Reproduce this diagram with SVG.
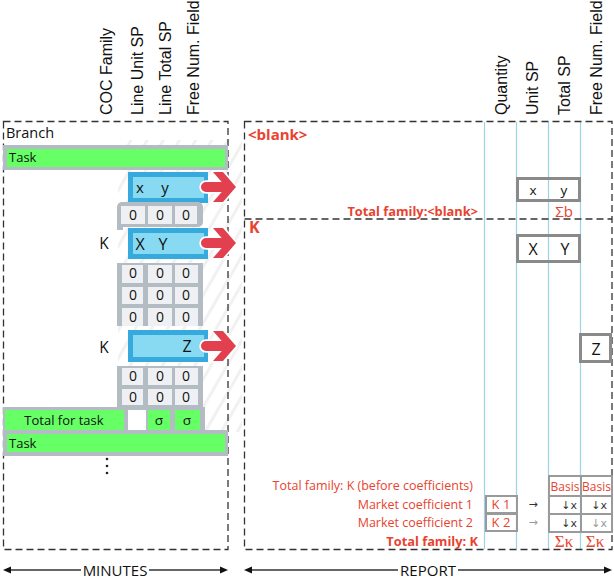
<svg xmlns="http://www.w3.org/2000/svg" width="614" height="580" viewBox="0 0 614 580">
<style>
.hdr{font-family:"Liberation Sans",Arial,sans-serif;font-size:16px;fill:#111}
.t{font-family:"Open Sans","Noto Sans",sans-serif;fill:#111}
.red{fill:#e8432f}
.b{font-weight:bold}
.mid{text-anchor:middle}
.end{text-anchor:end}
.dash{fill:none;stroke:#333;stroke-width:1.3;stroke-dasharray:7 4}
.bar{fill:#b3bbc3}
.green{fill:#66ff66}
.cell{fill:#eef0f3}
.blueO{fill:#36aadd}
.blueI{fill:#88daf3}
.arrow{fill:#e2404e;stroke:#fff;stroke-width:3.5;paint-order:stroke;stroke-linejoin:round}
.vline{stroke:#9bd5e3;stroke-width:1.2}
.box{fill:none;stroke:#8a8a8a;stroke-width:3}
.sbox{fill:none;stroke:#9a9a9a;stroke-width:2}
.axis{stroke:#333;stroke-width:1.5}
.sym{font-family:"DejaVu Sans",sans-serif;font-size:11px}
</style>
<defs>
<pattern id="hatch" width="14" height="14" patternUnits="userSpaceOnUse" patternTransform="rotate(30)">
<rect x="0" y="0" width="3" height="14" fill="#f1f1f1"/>
</pattern>
</defs>

<!-- background hatch -->
<rect x="118" y="140" width="124" height="292" fill="url(#hatch)"/>

<!-- headers -->
<g id="headers-left">
<text class="hdr" transform="translate(112,115) rotate(-90)">COC Family</text>
<text class="hdr" transform="translate(143,115) rotate(-90)">Line Unit SP</text>
<text class="hdr" transform="translate(171,115) rotate(-90)">Line Total SP</text>
<text class="hdr" transform="translate(199,115) rotate(-90)">Free Num. Field</text>
</g>
<g id="headers-right">
<text class="hdr" transform="translate(507,115) rotate(-90)">Quantity</text>
<text class="hdr" transform="translate(538,115) rotate(-90)">Unit SP</text>
<text class="hdr" transform="translate(570,115) rotate(-90)">Total SP</text>
<text class="hdr" transform="translate(602,115) rotate(-90)">Free Num. Field</text>
</g>

<!-- right panel column lines -->
<g id="report-columns">
<line class="vline" x1="484.5" y1="122" x2="484.5" y2="549"/>
<line class="vline" x1="516.5" y1="122" x2="516.5" y2="549"/>
<line class="vline" x1="548.5" y1="122" x2="548.5" y2="549"/>
<line class="vline" x1="580.5" y1="122" x2="580.5" y2="549"/>
</g>

<!-- panels -->
<g id="minutes-panel">
<rect class="dash" x="3.5" y="121.5" width="224.5" height="428"/>
</g>
<g id="report-panel">
<rect class="dash" x="244.5" y="121.5" width="367.5" height="428"/>
<line class="dash" x1="244.5" y1="219" x2="612" y2="219"/>
</g>

<!-- minutes content -->
<text class="t" x="6" y="138" font-size="14.5">Branch</text>

<g id="task1">
<rect class="bar" x="3" y="145" width="225" height="25"/>
<rect class="green" x="7" y="149" width="218" height="18"/>
<text class="t" x="9" y="162" font-size="13">Task</text>
</g>

<g id="line-xy">
<rect class="blueO" x="128" y="172" width="80" height="31"/>
<rect class="blueI" x="133" y="177" width="71" height="21"/>
<text class="t" x="140" y="193" font-size="15" text-anchor="middle">x</text>
<text class="t" x="165" y="193" font-size="15" text-anchor="middle">y</text>
</g>

<g id="grid1">
<rect class="bar" x="117" y="202" width="86" height="25" rx="5"/>
<rect class="bar" x="117" y="215" width="6" height="15"/>
<rect class="cell" x="121" y="206" width="24" height="18"/>
<rect class="cell" x="148" y="206" width="24" height="18"/>
<rect class="cell" x="175" y="206" width="22" height="18"/>
<text class="t mid" x="133" y="220" font-size="14">0</text>
<text class="t mid" x="160" y="220" font-size="14">0</text>
<text class="t mid" x="186" y="220" font-size="14">0</text>
</g>

<text class="t" x="104" y="249" font-size="15.5" text-anchor="middle">K</text>
<g id="line-XY">
<rect class="blueO" x="128" y="228" width="80" height="31"/>
<rect class="blueI" x="133" y="233" width="71" height="21"/>
<text class="t" x="140" y="250" font-size="16" text-anchor="middle">X</text>
<text class="t" x="163" y="250" font-size="16" text-anchor="middle">Y</text>
</g>

<g id="grid2">
<rect class="bar" x="117" y="263" width="86" height="63"/>
<rect class="cell" x="122" y="265" width="21" height="18"/>
<rect class="cell" x="148" y="265" width="24" height="18"/>
<rect class="cell" x="175" y="265" width="23" height="18"/>
<rect class="cell" x="122" y="287" width="21" height="17"/>
<rect class="cell" x="148" y="287" width="24" height="17"/>
<rect class="cell" x="175" y="287" width="23" height="17"/>
<rect class="cell" x="122" y="308" width="21" height="18"/>
<rect class="cell" x="148" y="308" width="24" height="18"/>
<rect class="cell" x="175" y="308" width="23" height="18"/>
<text class="t mid" x="133" y="278" font-size="14">0</text>
<text class="t mid" x="160" y="278" font-size="14">0</text>
<text class="t mid" x="186" y="278" font-size="14">0</text>
<text class="t mid" x="133" y="300" font-size="14">0</text>
<text class="t mid" x="160" y="300" font-size="14">0</text>
<text class="t mid" x="186" y="300" font-size="14">0</text>
<text class="t mid" x="133" y="322" font-size="14">0</text>
<text class="t mid" x="160" y="322" font-size="14">0</text>
<text class="t mid" x="186" y="322" font-size="14">0</text>
</g>

<text class="t" x="104" y="353" font-size="15.5" text-anchor="middle">K</text>
<g id="line-Z">
<rect class="blueO" x="128" y="330" width="80" height="32"/>
<rect class="blueI" x="133" y="335" width="71" height="22"/>
<text class="t" x="187" y="352" font-size="16" text-anchor="middle">Z</text>
</g>

<g id="grid3">
<rect class="bar" x="117" y="366" width="86" height="42"/>
<rect class="cell" x="122" y="368" width="21" height="17"/>
<rect class="cell" x="148" y="368" width="24" height="17"/>
<rect class="cell" x="175" y="368" width="23" height="17"/>
<rect class="cell" x="122" y="389" width="21" height="16"/>
<rect class="cell" x="148" y="389" width="24" height="16"/>
<rect class="cell" x="175" y="389" width="23" height="16"/>
<text class="t mid" x="133" y="381" font-size="14">0</text>
<text class="t mid" x="160" y="381" font-size="14">0</text>
<text class="t mid" x="186" y="381" font-size="14">0</text>
<text class="t mid" x="133" y="402" font-size="14">0</text>
<text class="t mid" x="160" y="402" font-size="14">0</text>
<text class="t mid" x="186" y="402" font-size="14">0</text>
</g>

<g id="total-task">
<rect class="bar" x="3" y="407" width="202" height="25"/>
<rect class="green" x="5" y="410" width="119" height="20"/>
<rect fill="#ffffff" x="128" y="410" width="18" height="20"/>
<rect class="green" x="148" y="410" width="22" height="20"/>
<rect class="green" x="175" y="410" width="25" height="20"/>
<text class="t mid" x="64" y="425" font-size="13">Total for task</text>
<text class="t mid" x="159" y="425" font-size="13.5">σ</text>
<text class="t mid" x="187" y="425" font-size="13.5">σ</text>
</g>

<g id="task2">
<rect class="bar" x="3" y="430" width="225" height="26"/>
<rect class="green" x="7" y="434" width="218" height="18"/>
<text class="t" x="9" y="448" font-size="13">Task</text>
</g>

<g id="ellipsis" fill="#222">
<circle cx="107" cy="459" r="1.3"/>
<circle cx="107" cy="466" r="1.3"/>
<circle cx="107" cy="473" r="1.3"/>
</g>

<!-- connectors -->
<g id="connectors">
<path class="arrow" d="M206,182 H221.7 L213,172 H223 L236,187 L223,202 H213 L221.7,192 H206 A5,5 0 0 1 206,182 Z"/>
<path class="arrow" d="M206,238 H221.7 L213,228 H223 L236,243 L223,258 H213 L221.7,248 H206 A5,5 0 0 1 206,238 Z"/>
<path class="arrow" d="M206,341 H221.7 L213,331 H223 L236,346 L223,361 H213 L221.7,351 H206 A5,5 0 0 1 206,341 Z"/>
</g>

<!-- report content -->
<text class="t red b" x="248" y="140" font-size="15">&lt;blank&gt;</text>
<g id="rep-xy">
<rect class="box" x="517.5" y="178.5" width="62" height="22"/>
<text class="t mid" x="533" y="195" font-size="13.5">x</text>
<text class="t mid" x="564" y="195" font-size="13.5">y</text>
</g>
<text class="t red b end" x="478" y="216" font-size="12.8">Total family:&lt;blank&gt;</text>
<text class="t red mid" x="564" y="217" font-size="15">Σb</text>

<text class="t red b" x="249" y="233" font-size="16">K</text>
<g id="rep-XY">
<rect class="box" x="517.5" y="235.5" width="62" height="26"/>
<text class="t mid" x="533" y="255" font-size="16">X</text>
<text class="t mid" x="565" y="255" font-size="16">Y</text>
</g>

<g id="rep-Z">
<rect class="box" x="580.5" y="334.5" width="30" height="27" stroke-width="3.5"/>
<text class="t mid" x="596" y="355" font-size="16">Z</text>
</g>

<g id="coefficients">
<text class="t red end" x="473" y="490" font-size="12.5">Total family: K (before coefficients)</text>
<text class="t red end" x="473" y="509" font-size="12.5">Market coefficient 1</text>
<text class="t red end" x="473" y="527" font-size="12.5">Market coefficient 2</text>
<text class="t red b end" x="478" y="546" font-size="12.8">Total family: K</text>

<rect class="sbox" x="486" y="496" width="31" height="17"/>
<rect class="sbox" x="486" y="514" width="31" height="17"/>
<text class="t red mid" x="501" y="509" font-size="13">K 1</text>
<text class="t red mid" x="501" y="527" font-size="13">K 2</text>
<text class="sym mid" x="533" y="508" fill="#333">→</text>
<text class="sym mid" x="533" y="526" fill="#999">→</text>

<rect class="sbox" x="549" y="476" width="32" height="20"/>
<rect class="sbox" x="581" y="476" width="31" height="20"/>
<rect class="sbox" x="549" y="496" width="32" height="18"/>
<rect class="sbox" x="581" y="496" width="31" height="18"/>
<rect class="sbox" x="549" y="514" width="32" height="18"/>
<rect class="sbox" x="581" y="514" width="31" height="18"/>
<text class="t red mid" x="565" y="491" font-size="12">Basis</text>
<text class="t red mid" x="596.5" y="491" font-size="12">Basis</text>
<text class="sym end" x="577" y="509" fill="#333">↓x</text>
<text class="sym end" x="607" y="509" fill="#333">↓x</text>
<text class="sym end" x="577" y="527" fill="#333">↓x</text>
<text class="sym end" x="607" y="527" fill="#999">↓x</text>
<text class="red mid" x="564" y="547" font-family="'Liberation Serif',serif" font-size="17">Σκ</text>
<text class="red mid" x="595" y="547" font-family="'Liberation Serif',serif" font-size="17">Σκ</text>
</g>

<!-- axes -->
<g id="axis-minutes">
<line class="axis" x1="10" y1="570" x2="81" y2="570"/>
<line class="axis" x1="149" y1="570" x2="221" y2="570"/>
<polygon points="3,570 11,566.5 11,573.5" fill="#111"/>
<polygon points="228,570 220,566.5 220,573.5" fill="#111"/>
<text class="t mid" x="115" y="575.5" font-size="15">MINUTES</text>
</g>
<g id="axis-report">
<line class="axis" x1="251" y1="570" x2="398" y2="570"/>
<line class="axis" x1="458" y1="570" x2="605" y2="570"/>
<polygon points="244,570 252,566.5 252,573.5" fill="#111"/>
<polygon points="612,570 604,566.5 604,573.5" fill="#111"/>
<text class="t mid" x="428" y="575.5" font-size="15">REPORT</text>
</g>
</svg>
